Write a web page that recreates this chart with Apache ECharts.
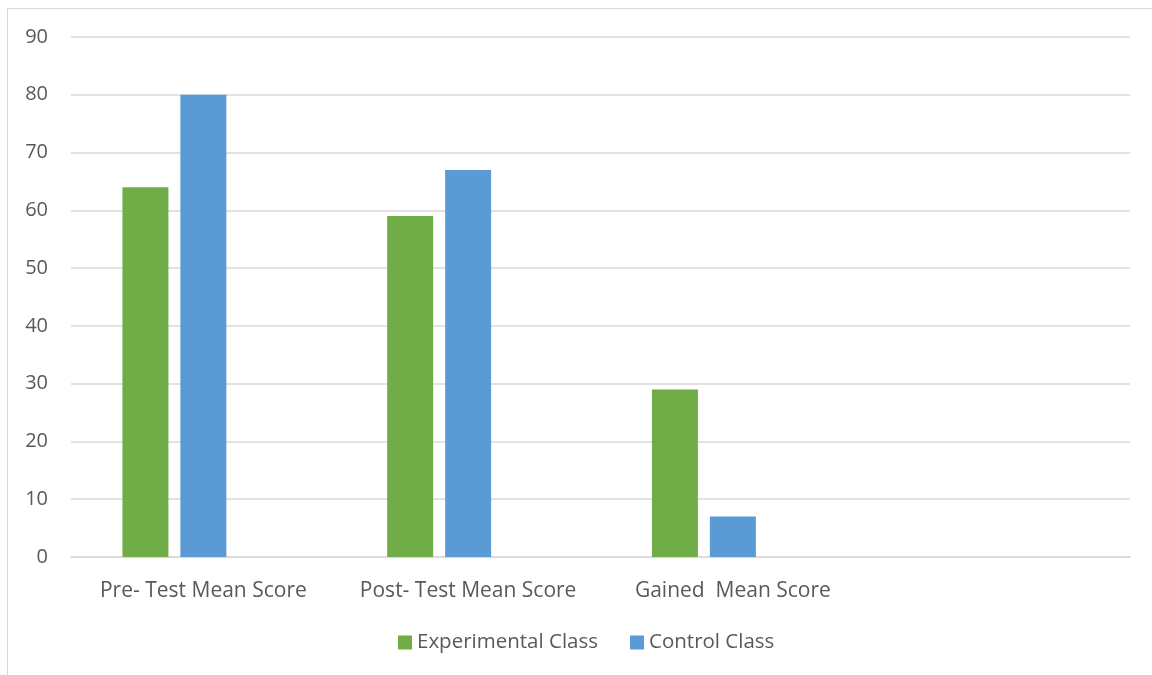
<!DOCTYPE html>
<html>
<head>
<meta charset="utf-8">
<script src="https://cdn.jsdelivr.net/npm/echarts@6/dist/echarts.min.js"></script>
<style>
  html, body { margin: 0; padding: 0; background: #fff; }
  #frame { position: absolute; left: 7px; top: 8px; width: 1160px; height: 680px; border: 1.5px solid #d9d9d9; box-sizing: border-box; }
  #chart { position: absolute; left: 0; top: 0; width: 1152px; height: 675px; }
</style>
</head>
<body>
<div id="frame"></div>
<div id="chart"></div>
<script>
  // categories (4th slot is empty in the original chart)
  const categories = ['Pre- Test Mean Score', 'Post- Test Mean Score', 'Gained  Mean Score', '']
  const experimental = [64, 59, 29, null]
  const control = [80, 67, 7, null]
  const yTicks = [0, 10, 20, 30, 40, 50, 60, 70, 80, 90]

  const font = '"Open Sans", Lato, sans-serif'
  const textColor = '#595959'

  let option = {
    animation: false,
    textStyle: { fontFamily: font },
    legend: {
      data: ['Experimental Class', 'Control Class'],
      bottom: 17,
      left: 393,
      itemWidth: 14,
      itemHeight: 14,
      itemGap: 32,
      icon: 'rect',
      textStyle: { fontSize: 20.5, color: textColor, fontFamily: font }
    },
    grid: {
      left: 71,
      right: 22,
      top: 37,
      bottom: 118
    },
    xAxis: {
      type: 'category',
      data: categories,
      axisLine: { lineStyle: { color: '#d9d9d9', width: 1.5 } },
      axisTick: { show: false },
      axisLabel: { interval: 0, fontSize: 21, color: textColor, margin: 24, fontFamily: font }
    },
    yAxis: {
      type: 'value',
      min: yTicks[0],
      max: yTicks[yTicks.length - 1],
      interval: 10,
      axisLine: { show: false },
      axisTick: { show: false },
      splitLine: { lineStyle: { color: '#d9d9d9', width: 1.5 } },
      axisLabel: { fontSize: 20, color: textColor, margin: 23, fontFamily: font }
    },
    series: [
      {
        name: 'Experimental Class',
        type: 'bar',
        data: experimental,
        barWidth: 46,
        barGap: '26%',
        itemStyle: { color: '#70ad47' }
      },
      {
        name: 'Control Class',
        type: 'bar',
        data: control,
        barWidth: 46,
        barGap: '26%',
        itemStyle: { color: '#5b9bd5' }
      },
      {
        // empty third series keeps the bar pair offset like the original
        name: '',
        type: 'bar',
        data: [null, null, null, null],
        barWidth: 46,
        barGap: '26%'
      }
    ]
  }

  var dom = document.getElementById('chart')
  let myChart = echarts.init(dom)
  myChart.setOption(option, true)
</script>
</body>
</html>
